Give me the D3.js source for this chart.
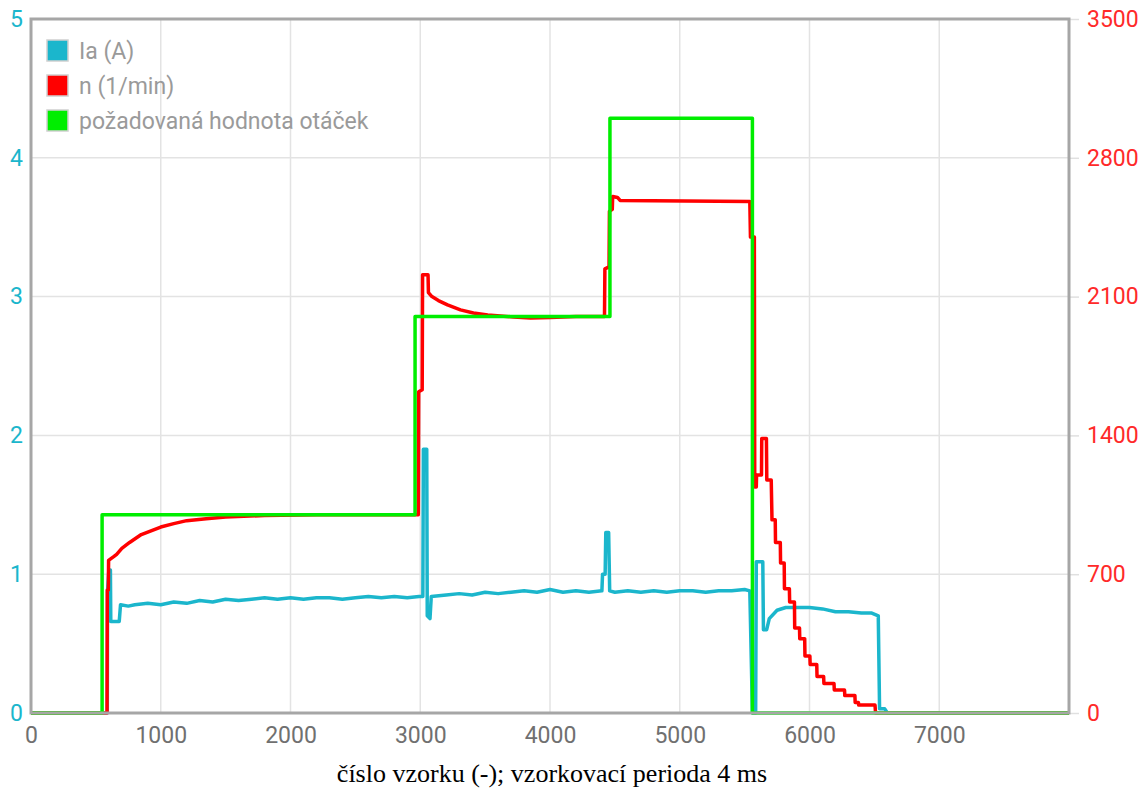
<!DOCTYPE html>
<html>
<head>
<meta charset="utf-8">
<script src="https://cdn.jsdelivr.net/npm/d3@7/dist/d3.min.js"></script>
<style>
  html, body { margin: 0; padding: 0; background: #ffffff; }
  svg { display: block; }
</style>
</head>
<body>
<svg id="chart" width="1145" height="790"></svg>
<script>
// Sample index range and axis ticks
const xTicks = [0, 1000, 2000, 3000, 4000, 5000, 6000, 7000];
const leftTicks = [0, 1, 2, 3, 4, 5];          // Ia (A)
const rightTicks = [0, 700, 1400, 2100, 2800, 3500]; // n (1/min)

// Series names
const seriesNames = ["Ia (A)", "n (1/min)", "požadovaná hodnota otáček"];

// Armature current Ia [sample, A]
const currentIa = [
  [0, 0], [588, 0], [590, 0.88], [600, 1.03], [612, 1.03], [615, 0.66], [680, 0.66], [690, 0.78],
  [750, 0.77], [800, 0.78], [900, 0.79], [1000, 0.78], [1100, 0.80], [1200, 0.79], [1300, 0.81],
  [1400, 0.80], [1500, 0.82], [1600, 0.81], [1700, 0.82], [1800, 0.83], [1900, 0.82], [2000, 0.83],
  [2100, 0.82], [2200, 0.83], [2300, 0.83], [2400, 0.82], [2500, 0.83], [2600, 0.84], [2700, 0.83],
  [2800, 0.84], [2900, 0.83], [2990, 0.84], [3020, 0.84], [3024, 1.9], [3050, 1.9], [3054, 0.70],
  [3075, 0.68], [3085, 0.84], [3200, 0.85], [3300, 0.86], [3400, 0.85], [3500, 0.87], [3600, 0.86],
  [3700, 0.87], [3800, 0.88], [3900, 0.87], [4000, 0.89], [4100, 0.87], [4200, 0.88], [4300, 0.87],
  [4400, 0.88], [4405, 1.0], [4425, 1.0], [4430, 1.3], [4452, 1.3], [4460, 0.88], [4500, 0.87],
  [4600, 0.88], [4700, 0.87], [4800, 0.88], [4900, 0.87], [5000, 0.88], [5100, 0.88], [5200, 0.87],
  [5300, 0.88], [5400, 0.88], [5500, 0.89], [5540, 0.88], [5560, 0], [5585, 0], [5590, 1.09],
  [5640, 1.09], [5645, 0.60], [5670, 0.60], [5690, 0.68], [5750, 0.74], [5817, 0.76], [5900, 0.76],
  [6000, 0.76], [6100, 0.75], [6200, 0.73], [6300, 0.73], [6400, 0.72], [6480, 0.72], [6530, 0.70],
  [6540, 0.03], [6580, 0.03], [6600, 0], [8000, 0]
];

// Motor speed n [sample, 1/min]
const speedN = [
  [0, 0], [586, 0], [588, 620], [596, 620], [598, 770], [640, 790], [660, 800], [700, 830],
  [760, 860], [850, 900], [1000, 938], [1100, 955], [1200, 970], [1350, 980], [1500, 988],
  [1800, 996], [2200, 1000], [2985, 1000], [2988, 1620], [3015, 1630], [3018, 2210], [3060, 2210],
  [3063, 2120], [3090, 2100], [3140, 2080], [3210, 2058], [3310, 2033], [3410, 2017], [3520, 2007],
  [3720, 1997], [3850, 1992], [4000, 1995], [4200, 2000], [4420, 2000], [4423, 2240], [4455, 2250],
  [4458, 2530], [4480, 2540], [4483, 2605], [4520, 2600], [4540, 2585], [5540, 2580], [5545, 2400],
  [5575, 2400], [5578, 1140], [5590, 1140], [5592, 1200], [5630, 1200], [5632, 1384], [5668, 1384],
  [5671, 1175], [5705, 1175], [5711, 974], [5736, 974], [5738, 860], [5775, 860], [5777, 756],
  [5805, 756], [5807, 627], [5845, 627], [5847, 560], [5884, 560], [5886, 429], [5923, 429],
  [5925, 375], [5963, 375], [5965, 287], [6003, 287], [6005, 245], [6056, 245], [6058, 184],
  [6109, 184], [6111, 149], [6189, 149], [6191, 116], [6270, 116], [6272, 88], [6350, 88],
  [6352, 53], [6377, 53], [6379, 40], [6505, 40], [6509, 0], [8000, 0]
];

// Speed setpoint [sample, 1/min]
const setpoint = [
  [0, 0], [548, 0], [548, 1000], [2960, 1000], [2960, 2000], [4462, 2000], [4462, 3000],
  [5560, 3000], [5560, 0], [8000, 0]
];

const colors = { ia: "#1bb6cc", n: "#ff0000", set: "#00ee00" };

const svg = d3.select("#chart");
const plot = { left: 31, top: 19, right: 1069, bottom: 713 };

const x = d3.scaleLinear().domain([0, 8000]).range([plot.left, plot.right]);
const yL = d3.scaleLinear().domain([0, 5]).range([plot.bottom, plot.top]);
const yR = d3.scaleLinear().domain([0, 3500]).range([plot.bottom, plot.top]);

// Grid lines
const grid = svg.append("g");
grid.selectAll("line.v").data(xTicks.filter(d => d > 0)).join("line")
  .attr("x1", d => x(d)).attr("x2", d => x(d))
  .attr("y1", plot.top).attr("y2", plot.bottom)
  .attr("stroke", "#e3e3e3").attr("stroke-width", 1.5);
grid.selectAll("line.h").data(leftTicks.filter(d => d > 0 && d < 5)).join("line")
  .attr("x1", plot.left).attr("x2", plot.right)
  .attr("y1", d => yL(d)).attr("y2", d => yL(d))
  .attr("stroke", "#e3e3e3").attr("stroke-width", 1.5);

// Axes
const font = "Roboto, 'Noto Sans', sans-serif";
const fs = 23;
const xAxis = svg.append("g").attr("transform", `translate(0,${plot.bottom})`)
  .call(d3.axisBottom(x).tickValues(xTicks).tickFormat(d3.format("d")).tickSize(0).tickPadding(14));
xAxis.select(".domain").remove();
xAxis.selectAll("text").attr("fill", "#707070").attr("font-size", fs).attr("font-family", font);

const leftAxis = svg.append("g").attr("transform", `translate(${plot.left},0)`)
  .call(d3.axisLeft(yL).tickValues(leftTicks).tickFormat(d3.format("d")).tickSize(0).tickPadding(8));
leftAxis.select(".domain").remove();
leftAxis.selectAll("text").attr("fill", "#1bb6cc").attr("font-size", fs).attr("font-family", font);

const rightAxis = svg.append("g").attr("transform", `translate(${plot.right},0)`)
  .call(d3.axisRight(yR).tickValues(rightTicks).tickFormat(d3.format("d")).tickSize(10).tickPadding(8));
rightAxis.select(".domain").remove();
rightAxis.selectAll("line").attr("stroke", "#e0e0e0").attr("stroke-width", 1.5);
rightAxis.selectAll("text").attr("fill", "#ff2a2a").attr("font-size", fs).attr("font-family", font);

// Series lines
const lineL = d3.line().x(d => x(d[0])).y(d => yL(d[1]));
const lineR = d3.line().x(d => x(d[0])).y(d => yR(d[1]));

svg.append("path").datum(currentIa).attr("d", lineL)
  .attr("fill", "none").attr("stroke", colors.ia).attr("stroke-width", 3.5).attr("stroke-linejoin", "round");
svg.append("path").datum(speedN).attr("d", lineR)
  .attr("fill", "none").attr("stroke", colors.n).attr("stroke-width", 3.5).attr("stroke-linejoin", "round");
svg.append("path").datum(setpoint).attr("d", lineR)
  .attr("fill", "none").attr("stroke", colors.set).attr("stroke-width", 3.5).attr("stroke-linejoin", "round");

// Plot frame
svg.append("rect")
  .attr("x", plot.left).attr("y", plot.top)
  .attr("width", plot.right - plot.left).attr("height", plot.bottom - plot.top)
  .attr("fill", "none").attr("stroke", "#a6a6a6").attr("stroke-width", 3);

// Legend
const legend = svg.append("g").attr("transform", "translate(47,40)");
const legendColors = [colors.ia, colors.n, colors.set];
const items = legend.selectAll("g").data(seriesNames).join("g")
  .attr("transform", (d, i) => `translate(0,${i * 35})`);
items.append("rect").attr("x", 0).attr("y", 0).attr("width", 21).attr("height", 21)
  .attr("fill", (d, i) => legendColors[i]).attr("stroke", "#d0d0d0").attr("stroke-width", 1.5);
items.append("text").attr("x", 32).attr("y", 11).attr("dy", "0.35em")
  .attr("fill", "#9a9a9a").attr("font-size", fs).attr("font-family", font)
  .text(d => d);

// X axis title
svg.append("text")
  .attr("x", 552).attr("y", 782)
  .attr("text-anchor", "middle")
  .attr("font-family", "'Liberation Serif', 'Times New Roman', serif")
  .attr("font-size", 26).attr("fill", "#000")
  .text("číslo vzorku (-); vzorkovací perioda 4 ms");
</script>
</body>
</html>
